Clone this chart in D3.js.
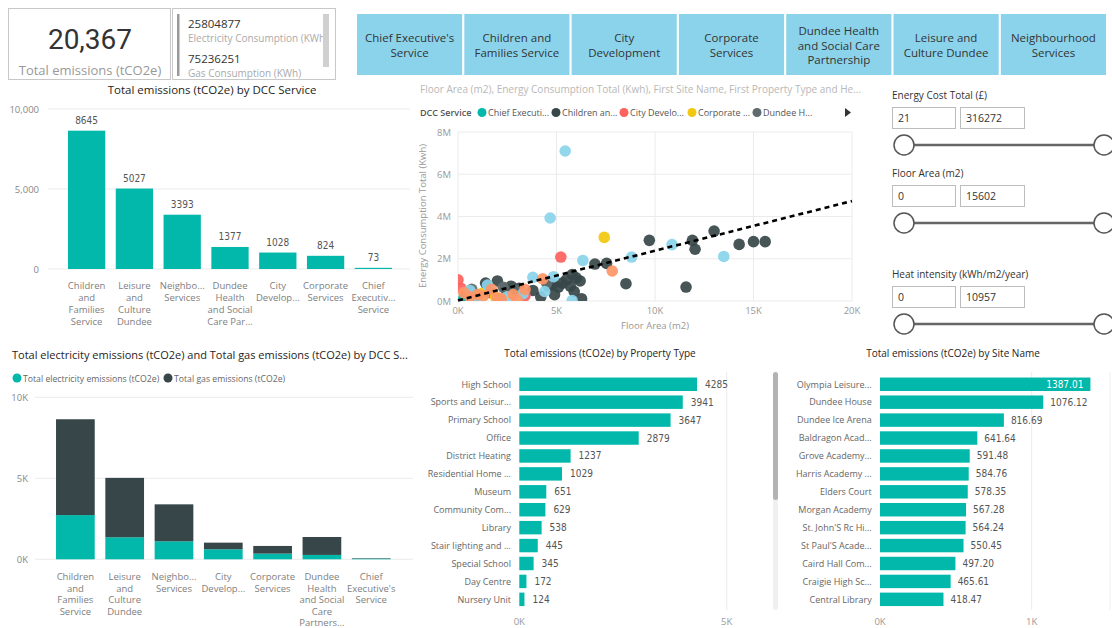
<!DOCTYPE html>
<html><head><meta charset="utf-8">
<script src="https://cdn.jsdelivr.net/npm/d3@7"></script>
<style>
body{margin:0;background:#fff;}
svg{display:block;font-family:"Open Sans","Noto Sans",sans-serif;}
.num{font-family:"DejaVu Sans Condensed","Liberation Sans Narrow","Roboto",sans-serif;}
</style></head><body><svg id="c" width="1112" height="628"></svg>
<script>
// ---------------- DATA ----------------
const kpiTotal = 20367;
const kpiTotalLabel = "Total emissions (tCO2e)";
const kpiElec = "25804877", kpiElecLabel = "Electricity Consumption (KWh)";
const kpiGas = "75236251", kpiGasLabel = "Gas Consumption (KWh)";

const buttonLabels = ["Chief Executive's|Service","Children and|Families Service","City|Development","Corporate|Services","Dundee Health|and Social Care|Partnership","Leisure and|Culture Dundee","Neighbourhood|Services"];

const serviceNames = ["Chief Executive's Service","Children and Families Service","City Development","Corporate Services","Dundee Health and Social Care Partnership","Leisure and Culture Dundee","Neighbourhood Services"];
const serviceColors = ["#01B8AA","#374649","#FD625E","#F2C80F","#5F6B6D","#8AD4EB","#FE9666"];
const legendShort = ["Chief Executi...","Children an...","City Develo...","Corporate ...","Dundee H..."];

// Total emissions by DCC Service
const emisCats = ["Children and Families Service","Leisure and Culture Dundee","Neighbourhood Services","Dundee Health and Social Care Partnership","City Development","Corporate Services","Chief Executive's Service"];
const emisTickLabels = ["Children|and|Families|Service","Leisure|and|Culture|Dundee","Neighbo...|Services","Dundee|Health|and Social|Care Par...","City|Develop...","Corporate|Services","Chief|Executiv...|Service"];
const emisValues = [8645,5027,3393,1377,1028,824,73];
const emisTicks = [0,5000,10000];

// Electricity / gas stacked
const stackCats = ["Children and Families Service","Leisure and Culture Dundee","Neighbourhood Services","City Development","Corporate Services","Dundee Health and Social Care Partnership","Chief Executive's Service"];
const stackTickLabels = ["Children|and|Families|Service","Leisure|and|Culture|Dundee","Neighbo...|Services","City|Develop...","Corporate|Services","Dundee|Health|and Social|Care|Partners...","Chief|Executive's|Service"];
const elecValues = [2730,1360,1110,620,350,270,45];
const gasValues  = [5915,3667,2283,408,474,1107,28];
const stackTicks = [0,5000,10000];

// Property type
const propCats = ["High School","Sports and Leisur...","Primary School","Office","District Heating","Residential Home ...","Museum","Community Com...","Library","Stair lighting and ...","Special School","Day Centre","Nursery Unit"];
const propValues = [4285,3941,3647,2879,1237,1029,651,629,538,445,345,172,124];

// Site name
const siteCats = ["Olympia Leisure...","Dundee House","Dundee Ice Arena","Baldragon Acad...","Grove Academy...","Harris Academy ...","Elders Court","Morgan Academy","St. John'S Rc Hi...","St Paul'S Acade...","Caird Hall Com...","Craigie High Sc...","Central Library"];
const siteValues = [1387.01,1076.12,816.69,641.64,591.48,584.76,578.35,567.28,564.24,550.45,497.20,465.61,418.47];

// Scatter: floor area (m2), energy consumption (kWh), service index
const scatterArea = [300,800, 9712,11898,12034,13000,14271,15000,15593,11576,8525,6949,7542,6271,5800,5500,6200,5700,5100,4800,4200,4900,2000,1400,2700,3100,2400,3800,5300,6000,4600,5900, 4500,1600,2900,700,2300, 5220,3400,0,150, 7424,1200,1900, 5441,4678,6339,8814,10864,13492,5796,3800,4850,4400,1500,600,2500,900,3300, 7830,4300,3400,2800,2000,1000,300,1700,600,2200,3000,1300];
const scatterEnergy = [150000,80000, 2870000,2870000,2450000,3310000,2680000,2810000,2810000,660000,820000,1750000,1780000,110000,1250000,1000000,950000,700000,650000,800000,200000,300000,950000,850000,700000,600000,600000,500000,850000,1100000,700000,450000, 850000,400000,500000,550000,650000, 2080000,250000,1000000,600000, 3010000,350000,200000, 7100000,3930000,1920000,2080000,2670000,2110000,20000,1120000,1150000,450000,750000,500000,200000,50000,350000, 1420000,1050000,550000,300000,150000,300000,400000,550000,200000,100000,50000,250000];
const scatterService = [0,0, 1,1,1,1,1,1,1,1,1,1,1,1,1,1,1,1,1,1,1,1,1,1,1,1,1,1,1,1,1,1, 4,4,4,4,4, 2,2,2,2, 3,3,3, 5,5,5,5,5,5,5,5,5,5,5,5,5,5,5, 6,6,6,6,6,6,6,6,6,6,6,6];
const trendX = [0,20000];
const trendY = [30000,4730000];
const scatterXTicks = [0,5000,10000,15000,20000];
const scatterYTicks = [0,2000000,4000000,6000000,8000000];

// Slicers
const slicerTitles = ["Energy Cost Total (£)","Floor Area (m2)","Heat intensity (kWh/m2/year)"];
const slicerMin = ["21","0","0"];
const slicerMax = ["316272","15602","10957"];

// ---------------- DRAW ----------------
const svg = d3.select("#c");
const TEAL = "#01B8AA", DARK = "#374649";
const fmtK = d => (d/1000) + "K";

// KPI cards
svg.append("rect").attr("x",8.5).attr("y",8.5).attr("width",162).attr("height",71).attr("fill","#fff").attr("stroke","#c8c8c8");
svg.append("rect").attr("x",172.5).attr("y",8.5).attr("width",163).attr("height",71).attr("fill","#fff").attr("stroke","#c8c8c8");
svg.append("text").attr("x",90).attr("y",49).attr("text-anchor","middle").attr("font-family","Roboto,sans-serif").attr("font-size",28).attr("fill","#333").text(d3.format(",")(kpiTotal));
svg.append("text").attr("x",90).attr("y",75).attr("text-anchor","middle").attr("font-size",13).attr("fill","#999").text(kpiTotalLabel);
svg.append("rect").attr("x",177).attr("y",14).attr("width",2.5).attr("height",62).attr("fill","#9a9a9a");
const kg = svg.append("g");
kg.append("text").attr("x",188).attr("y",28).attr("font-size",11.5).attr("fill","#333").text(kpiElec);
kg.append("text").attr("x",188).attr("y",42).attr("font-size",10).attr("fill","#aaa").text(kpiElecLabel);
kg.append("text").attr("x",188).attr("y",63).attr("font-size",11.5).attr("fill","#333").text(kpiGas);
kg.append("text").attr("x",188).attr("y",77).attr("font-size",10).attr("fill","#aaa").text(kpiGasLabel);
svg.append("rect").attr("x",323).attr("y",14).attr("width",6).attr("height",53).attr("fill","#d0d0d0");

// Buttons
const bx = d3.scaleBand().domain(d3.range(buttonLabels.length)).range([357,1106]).paddingInner(0.02);
const bg = svg.append("g");
buttonLabels.forEach((lab,i)=>{
  bg.append("rect").attr("x",bx(i)).attr("y",14).attr("width",bx.bandwidth()).attr("height",61).attr("fill","#8BD3EB");
  const lines = lab.split("|");
  const cy = 45, lh = 14.5;
  lines.forEach((l,j)=>{
    bg.append("text").attr("x",bx(i)+bx.bandwidth()/2).attr("y",cy + (j-(lines.length-1)/2)*lh + 4.5)
      .attr("text-anchor","middle").attr("font-size",11.5).attr("fill","#333").text(l);
  });
});

function wrapLabels(g, x, labels, y0, lh, size, color){
  labels.forEach((lab,i)=>{
    lab.split("|").forEach((l,j)=>{
      g.append("text").attr("x",x(i)).attr("y",y0+j*lh).attr("text-anchor","middle")
        .attr("font-size",size).attr("fill",color).text(l);
    });
  });
}

// Chart 1: Total emissions by DCC Service
{
  const g = svg.append("g");
  g.append("text").attr("x",212).attr("y",94).attr("text-anchor","middle").attr("font-size",11.5).attr("fill","#252423").text("Total emissions (tCO2e) by DCC Service");
  const y = d3.scaleLinear().domain([0,10000]).range([269,109]);
  const x = d3.scaleBand().domain(emisCats).range([62.7,397.3]).paddingInner(0.22).paddingOuter(0.11);
  g.selectAll(".gl").data(emisTicks).join("line").attr("x1",48).attr("x2",410).attr("y1",d=>y(d)).attr("y2",d=>y(d)).attr("stroke","#ebebeb");
  g.selectAll(".yl").data(emisTicks).join("text").attr("x",39).attr("y",d=>y(d)+3.5).attr("text-anchor","end").attr("font-size",9.5).attr("fill","#888").text(d3.format(","));
  g.selectAll(".bar").data(emisValues).join("rect").attr("x",(d,i)=>x(emisCats[i])).attr("width",x.bandwidth())
    .attr("y",d=>y(d)).attr("height",d=>y(0)-y(d)).attr("fill",TEAL);
  g.selectAll(".vl").data(emisValues).join("text").attr("class","num").attr("x",(d,i)=>x(emisCats[i])+x.bandwidth()/2).attr("y",d=>y(d)-7)
    .attr("text-anchor","middle").attr("font-size",10).attr("fill","#555").text(d=>d);
  wrapLabels(g, i=>x(emisCats[i])+x.bandwidth()/2, emisTickLabels, 288.5, 12, 9.5, "#808080");
}

// Scatter
{
  const g = svg.append("g");
  g.append("text").attr("x",420).attr("y",93).attr("font-size",10).attr("fill","#b8b8b8").text("Floor Area (m2), Energy Consumption Total (Kwh), First Site Name, First Property Type and He...");
  g.append("text").attr("x",420).attr("y",116).attr("font-size",9).attr("font-weight","600").attr("fill","#555").text("DCC Service");
  const lx = [482,556,624,692,757];
  legendShort.forEach((t,i)=>{
    g.append("circle").attr("cx",lx[i]).attr("cy",112.5).attr("r",4.5).attr("fill",serviceColors[i]);
    g.append("text").attr("x",lx[i]+6).attr("y",116).attr("font-size",9).attr("fill","#555").text(t);
  });
  g.append("path").attr("d","M845,108 L851,112.5 L845,117 Z").attr("fill","#333");
  const x = d3.scaleLinear().domain([0,20000]).range([458,852]);
  const y = d3.scaleLinear().domain([0,8000000]).range([301,132]);
  g.selectAll(".vg").data(scatterXTicks).join("line").attr("x1",d=>x(d)).attr("x2",d=>x(d)).attr("y1",132).attr("y2",301).attr("stroke","#ebebeb");
  g.selectAll(".hg").data(scatterYTicks).join("line").attr("y1",d=>y(d)).attr("y2",d=>y(d)).attr("x1",458).attr("x2",852).attr("stroke","#ebebeb");
  g.selectAll(".xt").data(scatterXTicks).join("text").attr("x",d=>x(d)).attr("y",314).attr("text-anchor","middle").attr("font-size",9.5).attr("fill","#999").text(fmtK);
  g.selectAll(".yt").data(scatterYTicks).join("text").attr("x",451).attr("y",d=>y(d)+3.5).attr("text-anchor","end").attr("font-size",9.5).attr("fill","#999").text(d=>(d/1e6)+"M");
  g.append("text").attr("x",655).attr("y",329).attr("text-anchor","middle").attr("font-size",9.5).attr("fill","#999").text("Floor Area (m2)");
  g.append("text").attr("transform","translate(426,216) rotate(-90)").attr("text-anchor","middle").attr("font-size",9.5).attr("fill","#999").text("Energy Consumption Total (Kwh)");
  svg.append("clipPath").attr("id","sc").append("rect").attr("x",458).attr("y",128).attr("width",400).attr("height",173);
  const pg = g.append("g").attr("clip-path","url(#sc)");
  pg.selectAll("circle").data(scatterArea).join("circle").attr("cx",d=>x(d)).attr("cy",(d,i)=>y(scatterEnergy[i])).attr("r",5.8)
    .attr("fill",(d,i)=>serviceColors[scatterService[i]]).attr("fill-opacity",0.92);
  g.append("line").attr("x1",x(trendX[0])).attr("y1",y(trendY[0])).attr("x2",x(trendX[1])).attr("y2",y(trendY[1]))
    .attr("stroke","#000").attr("stroke-width",2.6).attr("stroke-dasharray","5,4");
}

// Slicers
{
  const g = svg.append("g");
  const tops = [95,173,274];
  slicerTitles.forEach((t,i)=>{
    const ty = tops[i];
    g.append("text").attr("x",892).attr("y",ty+4).attr("font-size",10).attr("fill","#333").text(t);
    const by = ty+12;
    g.append("rect").attr("x",892.5).attr("y",by+0.5).attr("width",63).attr("height",21).attr("fill","#fff").attr("stroke","#bdbdbd");
    g.append("rect").attr("x",960.5).attr("y",by+0.5).attr("width",64).attr("height",21).attr("fill","#fff").attr("stroke","#bdbdbd");
    g.append("text").attr("x",898).attr("y",by+15).attr("font-size",10.5).attr("fill","#333").text(slicerMin[i]);
    g.append("text").attr("x",966).attr("y",by+15).attr("font-size",10.5).attr("fill","#333").text(slicerMax[i]);
    const sy = by+38;
    g.append("line").attr("x1",903).attr("x2",1104).attr("y1",sy).attr("y2",sy).attr("stroke","#666").attr("stroke-width",2.5);
    g.append("circle").attr("cx",904).attr("cy",sy).attr("r",10).attr("fill","#fff").attr("stroke","#555").attr("stroke-width",1.5);
    g.append("circle").attr("cx",1104).attr("cy",sy).attr("r",10).attr("fill","#fff").attr("stroke","#555").attr("stroke-width",1.5);
  });
}

// Stacked chart
{
  const g = svg.append("g");
  g.append("text").attr("x",12).attr("y",359).attr("font-size",11).attr("fill","#252423").text("Total electricity emissions (tCO2e) and Total gas emissions (tCO2e) by DCC S...");
  g.append("circle").attr("cx",17).attr("cy",378).attr("r",4.5).attr("fill",TEAL);
  g.append("text").attr("x",23).attr("y",381.5).attr("font-size",8.7).attr("fill","#666").text("Total electricity emissions (tCO2e)");
  g.append("circle").attr("cx",168).attr("cy",378).attr("r",4.5).attr("fill",DARK);
  g.append("text").attr("x",174).attr("y",381.5).attr("font-size",8.7).attr("fill","#666").text("Total gas emissions (tCO2e)");
  const y = d3.scaleLinear().domain([0,10000]).range([559.3,397.3]);
  const x = d3.scaleBand().domain(stackCats).range([50.6,396]).paddingInner(0.215).paddingOuter(0.11);
  g.selectAll(".gl").data(stackTicks).join("line").attr("x1",35).attr("x2",413).attr("y1",d=>y(d)).attr("y2",d=>y(d)).attr("stroke","#ebebeb");
  g.selectAll(".yl").data(stackTicks).join("text").attr("x",28).attr("y",d=>y(d)+3.5).attr("text-anchor","end").attr("font-size",9.5).attr("fill","#888").text(fmtK);
  const rows = stackCats.map((c,i)=>({cat:c, elec:elecValues[i], gas:gasValues[i]}));
  const series = d3.stack().keys(["elec","gas"])(rows);
  const cols = {elec:TEAL, gas:DARK};
  series.forEach(s=>{
    g.append("g").selectAll("rect").data(s).join("rect").attr("x",d=>x(d.data.cat)).attr("width",x.bandwidth())
      .attr("y",d=>y(d[1])).attr("height",d=>y(d[0])-y(d[1])).attr("fill",cols[s.key]);
  });
  wrapLabels(g, i=>x(stackCats[i])+x.bandwidth()/2, stackTickLabels, 580, 11.5, 9.5, "#808080");
}

// Horizontal bar helper
function hbar(title, titleX, cats, vals, x0, dmax, pxmax, labelX, ticks){
  const g = svg.append("g");
  g.append("text").attr("x",titleX).attr("y",357).attr("text-anchor","middle").attr("font-size",10).attr("fill","#252423").text(title);
  const x = d3.scaleLinear().domain([0,dmax]).range([x0,pxmax]);
  const y = d3.scaleBand().domain(cats).range([375.3,608.3]).paddingInner(0.25).paddingOuter(0.125);
  g.selectAll(".gl").data(ticks.filter(d=>d>0)).join("line").attr("x1",d=>x(d)).attr("x2",d=>x(d)).attr("y1",372).attr("y2",610).attr("stroke","#ebebeb");
  g.selectAll(".xt").data(ticks).join("text").attr("x",d=>x(d)).attr("y",625).attr("text-anchor","middle").attr("font-size",9.5).attr("fill","#999").text(fmtK);
  g.selectAll(".bar").data(vals).join("rect").attr("x",x(0)).attr("y",(d,i)=>y(cats[i])).attr("height",y.bandwidth())
    .attr("width",d=>x(d)-x(0)).attr("fill",TEAL);
  g.selectAll(".cl").data(cats).join("text").attr("x",labelX).attr("y",d=>y(d)+y.bandwidth()/2+3.3).attr("text-anchor","end")
    .attr("font-size",9).attr("fill","#666").text(d=>d);
  return {g,x,y};
}

{
  const {g,x,y} = hbar("Total emissions (tCO2e) by Property Type", 600, propCats, propValues, 519.3, 5000, 726.7, 511, [0,5000]);
  g.selectAll(".vl").data(propValues).join("text").attr("class","num").attr("x",d=>x(d)+8).attr("y",(d,i)=>y(propCats[i])+y.bandwidth()/2+3.5)
    .attr("font-size",10).attr("fill","#555").text(d=>d);
}
{
  svg.append("rect").attr("x",773).attr("y",372).attr("width",5).attr("height",238).attr("rx",2.5).attr("fill","#f0f0f0");
  svg.append("rect").attr("x",773).attr("y",372).attr("width",5).attr("height",128).attr("rx",2.5).attr("fill","#b3b3b3");
  svg.append("line").attr("x1",1110).attr("x2",1110).attr("y1",372).attr("y2",610).attr("stroke","#efefef");
  const {g,x,y} = hbar("Total emissions (tCO2e) by Site Name", 953, siteCats, siteValues, 880, 1000, 1031.7, 871.7, [0,1000]);
  const inside = d => x(d)+48 > 1108;
  g.selectAll(".vl").data(siteValues).join("text").attr("class","num")
    .attr("x",d=> inside(d) ? x(d)-7 : x(d)+7)
    .attr("text-anchor",d=> inside(d) ? "end" : "start")
    .attr("y",(d,i)=>y(siteCats[i])+y.bandwidth()/2+3.5)
    .attr("font-size",10).attr("fill",d=> inside(d) ? "#fff" : "#555").text(d=>d3.format(".2f")(d));
}
</script></body></html>
